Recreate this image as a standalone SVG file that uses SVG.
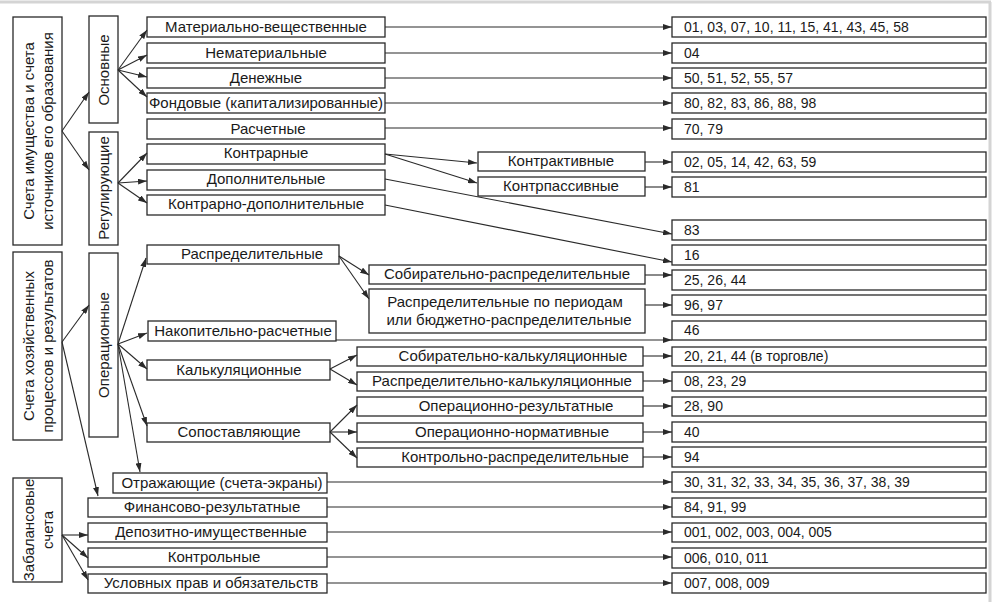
<svg xmlns="http://www.w3.org/2000/svg" width="995" height="602" viewBox="0 0 995 602">
<style>
.b{fill:#fff;stroke:#2a2a2a;stroke-width:1.3}
.t{font-family:"Liberation Sans",Arial,sans-serif;font-size:15px;fill:#1a1a1a}
.d{font-size:14px}
.m{text-anchor:middle}
.c line{stroke:#2a2a2a;stroke-width:1.1;marker-end:url(#ah)}
</style>
<defs>
<marker id="ah" markerUnits="userSpaceOnUse" markerWidth="10" markerHeight="6" refX="9" refY="3" orient="auto">
<path d="M0,0 L9,3 L0,6 z" fill="#2a2a2a"/>
</marker>
</defs>
<rect width="995" height="602" fill="#fff"/>
<line x1="0" y1="2" x2="991" y2="2" stroke="#d4d4d4" stroke-width="3"/>
<line x1="990" y1="2" x2="990" y2="602" stroke="#d4d4d4" stroke-width="3"/>

<g id="left1"><rect class="b" x="13" y="17" width="49" height="228"/>
<text class="t m" transform="translate(34,131) rotate(-90)">Счета имущества и счета</text>
<text class="t m" transform="translate(53,131) rotate(-90)">источников его образования</text></g>
<g id="left2"><rect class="b" x="13" y="252" width="49" height="188"/>
<text class="t m" transform="translate(34,346) rotate(-90)">Счета хозяйственных</text>
<text class="t m" transform="translate(53,346) rotate(-90)">процессов и результатов</text></g>
<g id="left3"><rect class="b" x="13" y="478" width="49" height="104"/>
<text class="t m" transform="translate(34,530) rotate(-90)">Забалансовые</text>
<text class="t m" transform="translate(53,530) rotate(-90)">счета</text></g>

<g id="osn"><rect class="b" x="89" y="16" width="29" height="107"/>
<text class="t m" transform="translate(109,70) rotate(-90)">Основные</text></g>
<g id="reg"><rect class="b" x="89" y="132" width="29" height="113"/>
<text class="t m" transform="translate(109,188) rotate(-90)">Регулирующие</text></g>
<g id="oper"><rect class="b" x="89" y="253" width="29" height="184"/>
<text class="t m" transform="translate(109,345) rotate(-90)">Операционные</text></g>

<g id="m1"><rect class="b" x="147" y="17" width="238" height="20"/><text class="t m" x="266" y="32">Материально-вещественные</text></g>
<g id="m2"><rect class="b" x="147" y="43" width="238" height="20"/><text class="t m" x="266" y="58">Нематериальные</text></g>
<g id="m3"><rect class="b" x="147" y="68" width="238" height="20"/><text class="t m" x="266" y="83">Денежные</text></g>
<g id="m4"><rect class="b" x="147" y="93" width="238" height="20"/><text class="t m" x="266" y="108">Фондовые (капитализированные)</text></g>
<g id="m5"><rect class="b" x="147" y="119" width="238" height="20"/><text class="t m" x="268" y="134">Расчетные</text></g>
<g id="m6"><rect class="b" x="147" y="144" width="238" height="20"/><text class="t m" x="266" y="158">Контрарные</text></g>
<g id="m7"><rect class="b" x="147" y="170" width="238" height="20"/><text class="t m" x="266" y="184">Дополнительные</text></g>
<g id="m8"><rect class="b" x="147" y="195" width="238" height="20"/><text class="t m" x="266" y="209">Контрарно-дополнительные</text></g>

<g id="ka"><rect class="b" x="478" y="152" width="167" height="19"/><text class="t m" x="561" y="166">Контрактивные</text></g>
<g id="kp"><rect class="b" x="478" y="177" width="167" height="19"/><text class="t m" x="561" y="191">Контрпассивные</text></g>

<g id="rasp"><rect class="b" x="147" y="245" width="192" height="19"/><text class="t m" x="252" y="259">Распределительные</text></g>
<g id="sobr"><rect class="b" x="369" y="265" width="276" height="19"/><text class="t m" x="507" y="279">Собирательно-распределительные</text></g>
<g id="rpp"><rect class="b" x="369" y="289" width="276" height="44"/><text class="t m" x="505" y="307">Распределительные по периодам</text><text class="t m" x="509" y="325">или бюджетно-распределительные</text></g>
<g id="nak"><rect class="b" x="148" y="321" width="188" height="20"/><text class="t m" x="243" y="336">Накопительно-расчетные</text></g>
<g id="kalk"><rect class="b" x="147" y="360" width="183" height="20"/><text class="t m" x="239" y="375">Калькуляционные</text></g>
<g id="sk"><rect class="b" x="357" y="347" width="286" height="19"/><text class="t m" x="513" y="361">Собирательно-калькуляционные</text></g>
<g id="rk"><rect class="b" x="357" y="372" width="286" height="19"/><text class="t m" x="502" y="386">Распределительно-калькуляционные</text></g>
<g id="sop"><rect class="b" x="147" y="423" width="183" height="19"/><text class="t m" x="239" y="437">Сопоставляющие</text></g>
<g id="or"><rect class="b" x="357" y="397" width="286" height="19"/><text class="t m" x="516" y="411">Операционно-результатные</text></g>
<g id="on"><rect class="b" x="357" y="423" width="286" height="19"/><text class="t m" x="512" y="437">Операционно-нормативные</text></g>
<g id="kr"><rect class="b" x="357" y="448" width="286" height="19"/><text class="t m" x="515" y="462">Контрольно-распределительные</text></g>
<g id="otr"><rect class="b" x="113" y="473" width="214" height="20"/><text class="t m" x="222" y="488">Отражающие (счета-экраны)</text></g>
<g id="fin"><rect class="b" x="88" y="498" width="239" height="19"/><text class="t m" x="212" y="512">Финансово-результатные</text></g>
<g id="dep"><rect class="b" x="88" y="523" width="239" height="19"/><text class="t m" x="211" y="537">Депозитно-имущественные</text></g>
<g id="kon"><rect class="b" x="88" y="548" width="239" height="19"/><text class="t m" x="214" y="562">Контрольные</text></g>
<g id="usl"><rect class="b" x="88" y="574" width="239" height="19"/><text class="t m" x="211" y="588">Условных прав и обязательств</text></g>

<g id="r1"><rect class="b" x="672" y="17" width="314" height="20"/><text class="t d" x="684" y="32">01, 03, 07, 10, 11, 15, 41, 43, 45, 58</text></g>
<g id="r2"><rect class="b" x="672" y="43" width="314" height="20"/><text class="t d" x="684" y="58">04</text></g>
<g id="r3"><rect class="b" x="672" y="68" width="314" height="20"/><text class="t d" x="684" y="83">50, 51, 52, 55, 57</text></g>
<g id="r4"><rect class="b" x="672" y="93" width="314" height="20"/><text class="t d" x="684" y="108">80, 82, 83, 86, 88, 98</text></g>
<g id="r5"><rect class="b" x="672" y="119" width="314" height="20"/><text class="t d" x="684" y="134">70, 79</text></g>
<g id="r6"><rect class="b" x="672" y="152" width="314" height="20"/><text class="t d" x="684" y="167">02, 05, 14, 42, 63, 59</text></g>
<g id="r7"><rect class="b" x="672" y="177" width="314" height="20"/><text class="t d" x="684" y="192">81</text></g>
<g id="r8"><rect class="b" x="672" y="220" width="314" height="20"/><text class="t d" x="684" y="235">83</text></g>
<g id="r9"><rect class="b" x="672" y="245" width="314" height="20"/><text class="t d" x="684" y="260">16</text></g>
<g id="r10"><rect class="b" x="672" y="270" width="314" height="20"/><text class="t d" x="684" y="285">25, 26, 44</text></g>
<g id="r11"><rect class="b" x="672" y="295" width="314" height="20"/><text class="t d" x="684" y="310">96, 97</text></g>
<g id="r12"><rect class="b" x="672" y="321" width="314" height="19"/><text class="t d" x="684" y="335">46</text></g>
<g id="r13"><rect class="b" x="672" y="347" width="314" height="19"/><text class="t d" x="684" y="361">20, 21, 44 (в торговле)</text></g>
<g id="r14"><rect class="b" x="672" y="372" width="314" height="19"/><text class="t d" x="684" y="386">08, 23, 29</text></g>
<g id="r15"><rect class="b" x="672" y="397" width="314" height="19"/><text class="t d" x="684" y="411">28, 90</text></g>
<g id="r16"><rect class="b" x="672" y="422" width="314" height="20"/><text class="t d" x="684" y="437">40</text></g>
<g id="r17"><rect class="b" x="672" y="447" width="314" height="20"/><text class="t d" x="684" y="462">94</text></g>
<g id="r18"><rect class="b" x="672" y="472" width="314" height="20"/><text class="t d" x="684" y="487">30, 31, 32, 33, 34, 35, 36, 37, 38, 39</text></g>
<g id="r19"><rect class="b" x="672" y="498" width="314" height="19"/><text class="t d" x="684" y="512">84, 91, 99</text></g>
<g id="r20"><rect class="b" x="672" y="523" width="314" height="19"/><text class="t d" x="684" y="537">001, 002, 003, 004, 005</text></g>
<g id="r21"><rect class="b" x="672" y="548" width="314" height="20"/><text class="t d" x="684" y="563">006, 010, 011</text></g>
<g id="r22"><rect class="b" x="672" y="573" width="314" height="20"/><text class="t d" x="684" y="588">007, 008, 009</text></g>

<g id="connectors" class="c">
<line x1="62" y1="131" x2="89" y2="92"/>
<line x1="62" y1="131" x2="89" y2="170"/>
<line x1="118" y1="70" x2="147" y2="30"/>
<line x1="118" y1="70" x2="147" y2="55"/>
<line x1="118" y1="70" x2="147" y2="77"/>
<line x1="118" y1="70" x2="147" y2="97"/>
<line x1="118" y1="183" x2="147" y2="153"/>
<line x1="118" y1="183" x2="147" y2="181"/>
<line x1="118" y1="183" x2="147" y2="203"/>
<line x1="385" y1="27" x2="672" y2="27"/>
<line x1="385" y1="53" x2="672" y2="53"/>
<line x1="385" y1="78" x2="672" y2="78"/>
<line x1="385" y1="103" x2="672" y2="103"/>
<line x1="385" y1="128" x2="672" y2="128"/>
<line x1="385" y1="154" x2="477" y2="163"/>
<line x1="385" y1="154" x2="477" y2="183"/>
<line x1="645" y1="162" x2="672" y2="162"/>
<line x1="645" y1="187" x2="672" y2="187"/>
<line x1="385" y1="179" x2="672" y2="234"/>
<line x1="385" y1="205" x2="672" y2="262"/>
<line x1="62" y1="342" x2="89" y2="305"/>
<line x1="62" y1="342" x2="98" y2="496"/>
<line x1="118" y1="344" x2="146" y2="258"/>
<line x1="118" y1="344" x2="147" y2="333"/>
<line x1="118" y1="344" x2="147" y2="369"/>
<line x1="118" y1="344" x2="147" y2="426"/>
<line x1="118" y1="344" x2="140" y2="472"/>
<line x1="339" y1="256" x2="369" y2="275"/>
<line x1="339" y1="256" x2="369" y2="299"/>
<line x1="645" y1="275" x2="672" y2="275"/>
<line x1="645" y1="305" x2="672" y2="305"/>
<line x1="336" y1="340" x2="672" y2="340"/>
<line x1="330" y1="369" x2="357" y2="355"/>
<line x1="330" y1="369" x2="357" y2="385"/>
<line x1="643" y1="356" x2="672" y2="356"/>
<line x1="643" y1="381" x2="672" y2="381"/>
<line x1="330" y1="432" x2="357" y2="405"/>
<line x1="330" y1="432" x2="357" y2="432"/>
<line x1="330" y1="432" x2="357" y2="458"/>
<line x1="643" y1="406" x2="672" y2="406"/>
<line x1="643" y1="432" x2="672" y2="432"/>
<line x1="643" y1="457" x2="672" y2="457"/>
<line x1="327" y1="482" x2="672" y2="482"/>
<line x1="327" y1="507" x2="672" y2="507"/>
<line x1="327" y1="532" x2="672" y2="532"/>
<line x1="327" y1="557" x2="672" y2="557"/>
<line x1="327" y1="583" x2="672" y2="583"/>
<line x1="62" y1="535" x2="88" y2="535"/>
<line x1="62" y1="535" x2="88" y2="558"/>
<line x1="62" y1="535" x2="88" y2="580"/>
</g>
</svg>
